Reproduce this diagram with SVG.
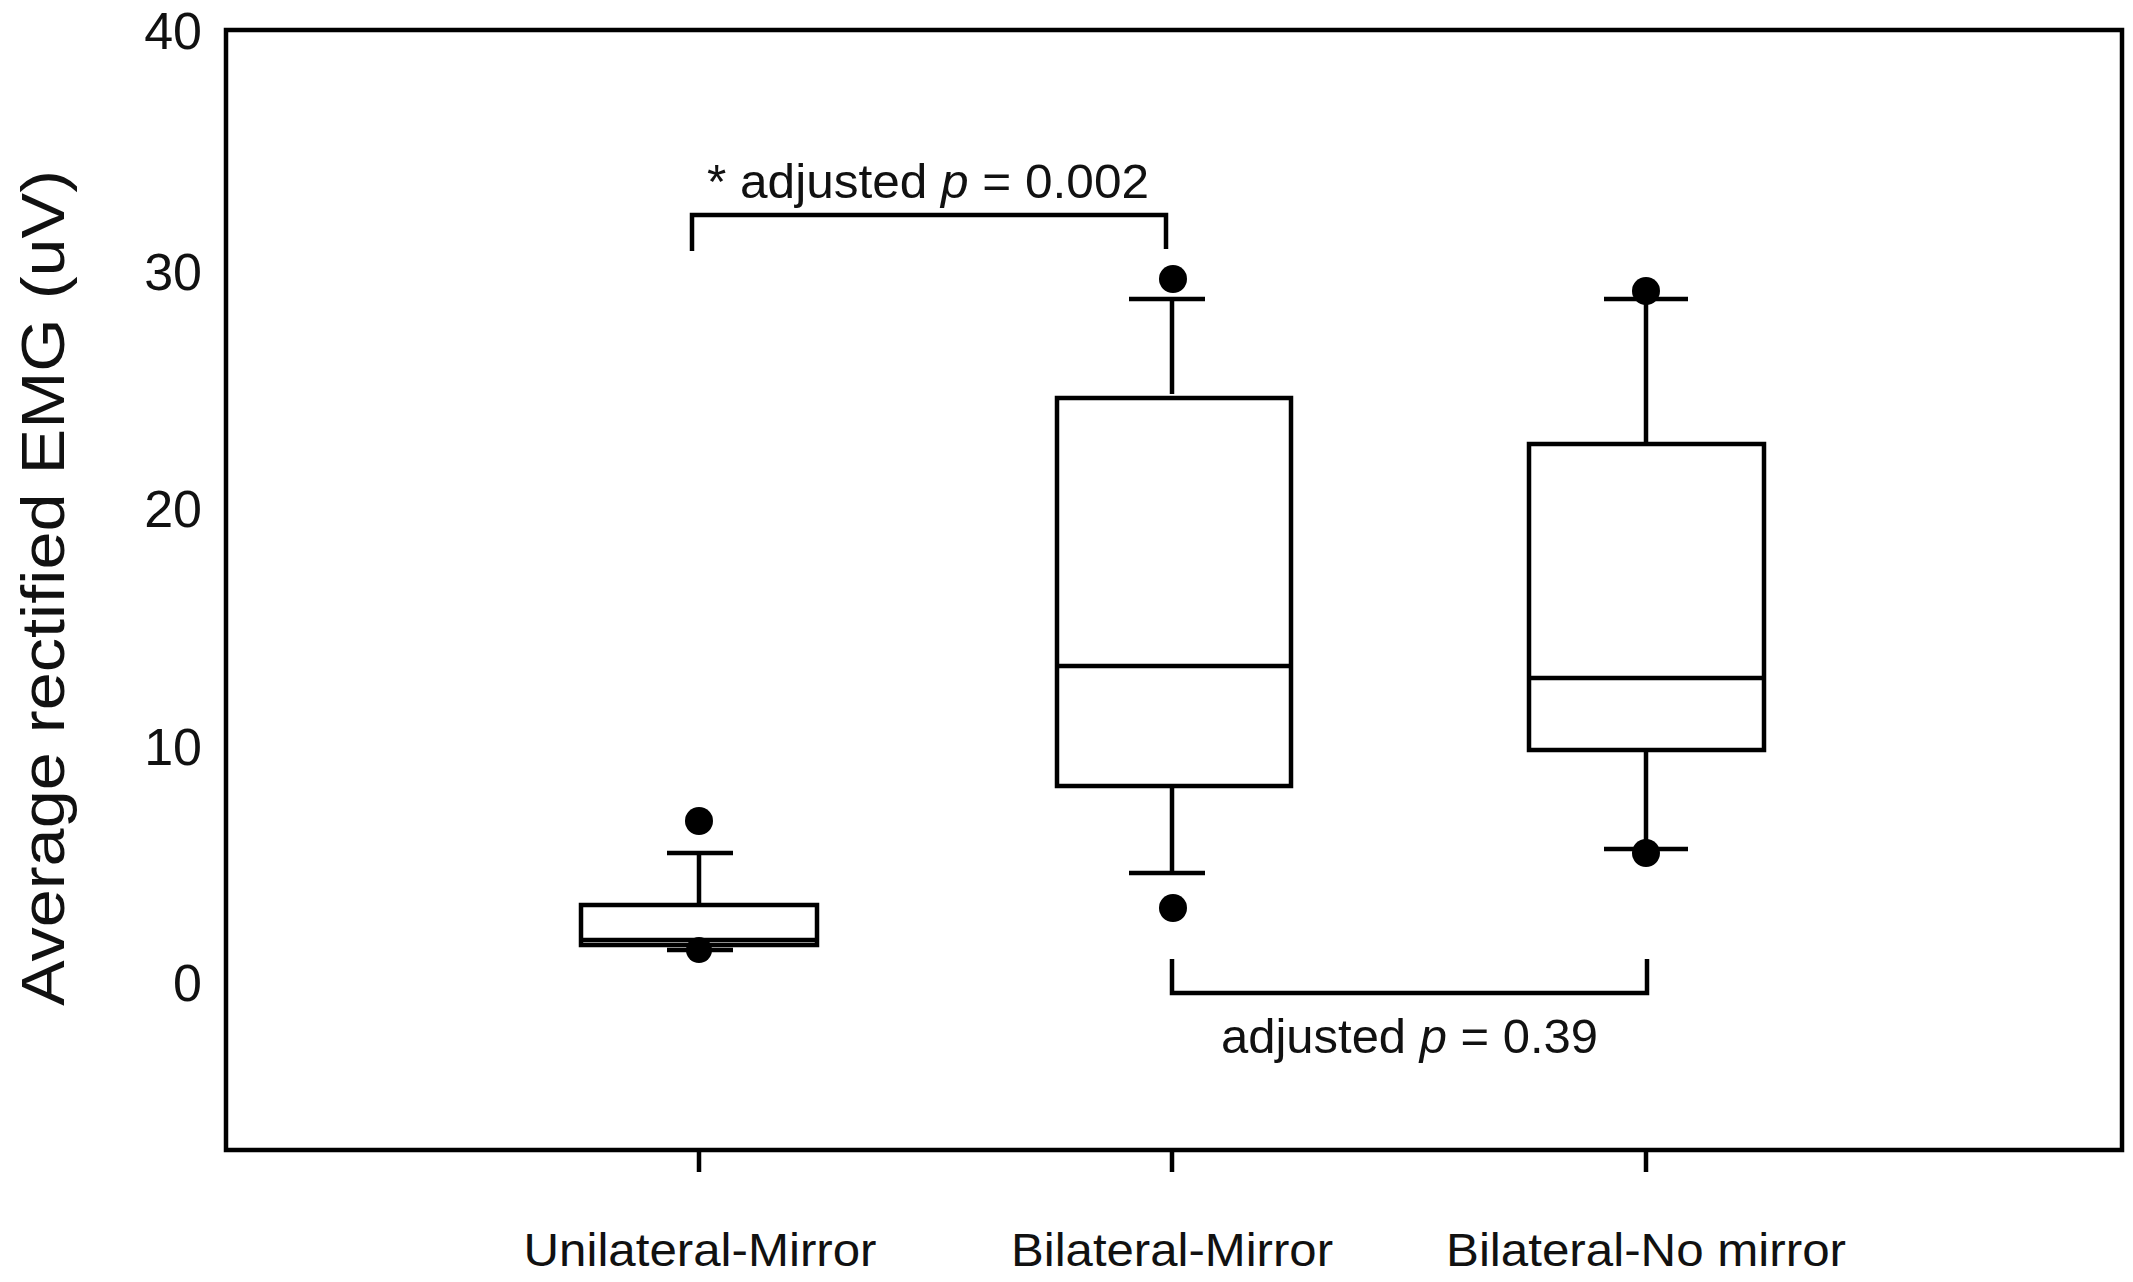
<svg xmlns="http://www.w3.org/2000/svg" width="2133" height="1282" viewBox="0 0 2133 1282">
<style>
.l{stroke:#000;stroke-width:4.5;fill:none}
.b{stroke:#000;stroke-width:4.5;fill:#fff}
.t{font-family:"Liberation Sans",Arial,sans-serif;fill:#111}
.tk{font-size:52px;text-anchor:end}
.xl{font-size:46px;text-anchor:middle}
.an{font-size:48px}
</style>
<rect width="2133" height="1282" fill="#fff"/>
<g id="axes">
<rect x="226" y="30" width="1896" height="1120" fill="none" stroke="#000" stroke-width="4.5"/>
<path class="l" d="M699 1150V1172M1172 1150V1172M1646 1150V1172"/>
<text class="t tk" x="202" y="49">40</text>
<text class="t tk" x="202" y="290">30</text>
<text class="t tk" x="202" y="527">20</text>
<text class="t tk" x="202" y="765">10</text>
<text class="t tk" x="202" y="1001">0</text>
<text class="t" font-size="62" text-anchor="middle" transform="translate(64,588) rotate(-90)" textLength="836" lengthAdjust="spacingAndGlyphs">Average rectified EMG (uV)</text>
<text class="t xl" x="700" y="1266" textLength="353" lengthAdjust="spacingAndGlyphs">Unilateral-Mirror</text>
<text class="t xl" x="1172" y="1266" textLength="322" lengthAdjust="spacingAndGlyphs">Bilateral-Mirror</text>
<text class="t xl" x="1646" y="1266" textLength="400" lengthAdjust="spacingAndGlyphs">Bilateral-No mirror</text>
</g>
<g id="box1">
<path class="l" d="M699 905V853M667 853H733M699 945V950M667 950H733"/>
<rect class="b" x="581" y="905" width="236" height="40"/>
<path class="l" d="M581 940H817"/>
<circle cx="699" cy="821" r="14"/>
<circle cx="699" cy="950" r="13"/>
</g>
<g id="box2">
<path class="l" d="M1172 394V299M1129 299H1205M1172 784V873M1129 873H1205"/>
<rect class="b" x="1057" y="398" width="234" height="388"/>
<path class="l" d="M1057 666H1291"/>
<circle cx="1173" cy="279" r="14"/>
<circle cx="1173" cy="908" r="14"/>
</g>
<g id="box3">
<path class="l" d="M1646 444V299M1604 299H1688M1646 750V849M1604 849H1688"/>
<rect class="b" x="1529" y="444" width="235" height="306"/>
<path class="l" d="M1529 678H1764"/>
<circle cx="1646" cy="291" r="14"/>
<circle cx="1646" cy="853" r="14"/>
</g>
<g id="connectors">
<path class="l" d="M692 251V215H1166V249" stroke-width="5"/>
<path class="l" d="M1172 959V993H1647V959" stroke-width="5"/>
</g>
<g id="labels">
<text class="t an" x="707" y="198" textLength="442" lengthAdjust="spacingAndGlyphs">* adjusted <tspan font-style="italic">p</tspan> = 0.002</text>
<text class="t an" x="1221" y="1053" textLength="377" lengthAdjust="spacingAndGlyphs">adjusted <tspan font-style="italic">p</tspan> = 0.39</text>
</g>
</svg>
